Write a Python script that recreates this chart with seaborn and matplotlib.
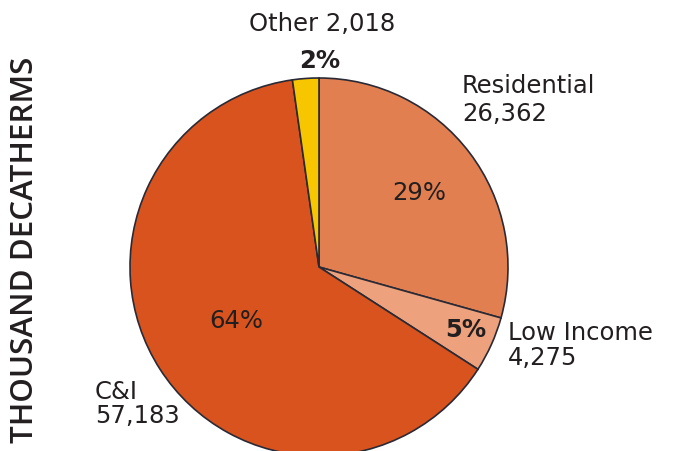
import matplotlib
matplotlib.use("Agg")
import matplotlib.pyplot as plt
import seaborn as sns

categories = ["Residential", "Low Income", "C&I", "Other"]
values = [26362, 4275, 57183, 2018]
pct_labels = ["29%", "5%", "64%", "2%"]
value_labels = ["26,362", "4,275", "57,183", "2,018"]
colors = ["#E17F50", "#EDA17C", "#D8531D", "#F7C600"]

sns.set_theme(style="white")
plt.rcParams['font.family'] = ['DejaVu Sans']

W, H = 678, 451
fig = plt.figure(figsize=(W / 100, H / 100), dpi=100)
cx, cy, r = 319, 267, 189
ax = fig.add_axes([(cx - r) / W, (H - cy - r) / H, 2 * r / W, 2 * r / H])
ax.pie(values, colors=colors, startangle=90, counterclock=False, radius=1,
       wedgeprops=dict(edgecolor="#2A2A36", linewidth=1.2), frame=False)
ax.set_xlim(-1, 1)
ax.set_ylim(-1, 1)
ax.set_aspect("auto")
ax.axis("off")

def P(px, py):
    return ((px - cx) / r, (cy - py) / r)

tc = "#231F20"
fs = 17.5
kw = dict(color=tc, fontsize=fs, clip_on=False)

# Other
ax.text(*P(322, 24), f"{categories[3]} {value_labels[3]}", ha="center", va="center", **kw)
ax.text(*P(320, 61), pct_labels[3], ha="center", va="center", fontweight="bold", **kw)
# Residential
ax.text(*P(462, 86), categories[0], ha="left", va="center", **kw)
ax.text(*P(462, 114), value_labels[0], ha="left", va="center", **kw)
ax.text(*P(419, 193), pct_labels[0], ha="center", va="center", **kw)
# Low income
ax.text(*P(466, 330), pct_labels[1], ha="center", va="center", fontweight="bold", **kw)
ax.text(*P(508, 333), categories[1], ha="left", va="center", **kw)
ax.text(*P(508, 358), value_labels[1], ha="left", va="center", **kw)
# C&I
ax.text(*P(236, 321), pct_labels[2], ha="center", va="center", **kw)
ax.text(*P(95, 392), categories[2], ha="left", va="center", **kw)
ax.text(*P(95, 416), value_labels[2], ha="left", va="center", **kw)

fig.text(25 / W, 1 - 250 / H, "THOUSAND DECATHERMS", rotation=90, ha="center", va="center",
         fontsize=22.5, fontweight="semibold", color=tc, family=["Open Sans", "DejaVu Sans"])

fig.savefig("out.png", dpi=100)
